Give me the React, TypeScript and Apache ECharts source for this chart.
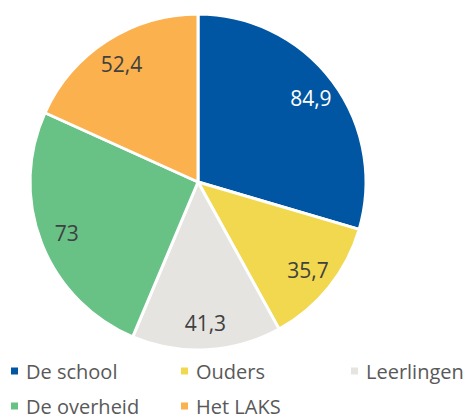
import React, { useEffect, useRef } from "react";
import * as echarts from "echarts";

const categories = ["De school", "Ouders", "Leerlingen", "De overheid", "Het LAKS"];
const values = [84.9, 35.7, 41.3, 73, 52.4];
const colors = ["#0056A2", "#F1D84E", "#E5E4E1", "#68C185", "#FBB14E"];
const labelColors = ["#FFFFFF", "#404040", "#404040", "#404040", "#404040"];
const legendLeft = [9, 179, 349, 9, 179];
const legendTop = [361, 361, 361, 396, 396];

const FONT = "'Open Sans', sans-serif";

export default function App() {
  const ref = useRef<HTMLDivElement>(null);
  useEffect(() => {
    if (!ref.current) return;
    const chart = echarts.init(ref.current, null, { renderer: "svg" });
    const data = categories.map((name, i) => ({
      name,
      value: values[i],
      itemStyle: { color: colors[i] },
    }));
    const labelData = categories.map((name, i) => ({
      name,
      value: values[i],
      label: { color: labelColors[i] },
    }));
    const legends = categories.map((name, i) => ({
      orient: "horizontal" as const,
      icon: "rect",
      itemWidth: 9,
      itemHeight: 9,
      padding: 0,
      left: legendLeft[i],
      top: legendTop[i],
      data: [name],
      textStyle: { fontFamily: FONT, fontSize: 20, color: "#595959", padding: [0, 0, 0, 2] },
      selectedMode: false,
    }));
    chart.setOption({
      animation: false,
      legend: legends,
      series: [
        {
          type: "pie",
          center: [198, 182],
          radius: [0, 168],
          startAngle: 90,
          clockwise: true,
          data,
          label: { show: false },
          labelLine: { show: false },
          itemStyle: { borderColor: "#FFFFFF", borderWidth: 3 },
          emphasis: { disabled: true },
        },
        {
          type: "pie",
          center: [198, 182],
          radius: [108, 168],
          startAngle: 90,
          clockwise: true,
          silent: true,
          data: labelData,
          itemStyle: { color: "transparent" },
          label: {
            show: true,
            position: "inside",
            fontFamily: FONT,
            fontSize: 21,
            formatter: (p: any) => String(p.value).replace(".", ","),
          },
          labelLine: { show: false },
          emphasis: { disabled: true },
        },
      ],
    });
    return () => chart.dispose();
  }, []);
  return (
    <div
      ref={ref}
      style={{ position: "fixed", left: 0, top: 0, width: 469, height: 418, background: "#fff" }}
    />
  );
}
